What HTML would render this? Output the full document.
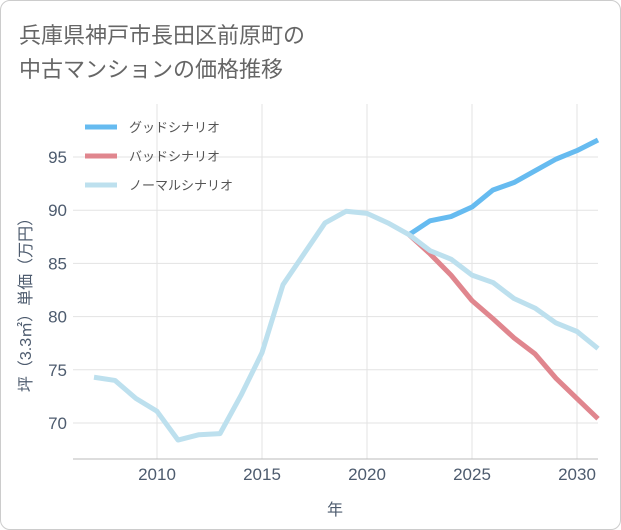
<!DOCTYPE html>
<html><head><meta charset="utf-8"><style>
body{margin:0;background:#fff;}
.card{position:absolute;left:0;top:0;width:619px;height:528px;border:1px solid #ccc;border-radius:10px;background:#fff;overflow:hidden}
.title{position:absolute;left:18px;top:18px;font:22px/34px "Liberation Sans","Noto Sans CJK JP",sans-serif;color:#666;}
svg{position:absolute;left:0;top:0}
text{font-family:"Liberation Sans","Noto Sans CJK JP",sans-serif}
</style></head><body>
<div class="card">
<div class="title">兵庫県神戸市長田区前原町の<br>中古マンションの価格推移</div>
<svg id="chart" width="621" height="530"></svg>
</div>
<script>
const years=[2007,2008,2009,2010,2011,2012,2013,2014,2015,2016,2017,2018,2019,2020,2021,2022,2023,2024,2025,2026,2027,2028,2029,2030,2031];
const normal=[74.3,74.0,72.3,71.1,68.4,68.9,69.0,72.6,76.6,83.0,85.9,88.8,89.9,89.7,88.8,87.7,86.2,85.4,83.9,83.2,81.7,80.8,79.4,78.6,77.0];
const futureYears=[2022,2023,2024,2025,2026,2027,2028,2029,2030,2031];
const good=[87.7,89.0,89.4,90.3,91.9,92.6,93.7,94.8,95.6,96.6];
const bad=[87.7,85.9,83.9,81.5,79.8,78.0,76.5,74.2,72.3,70.4];
const xTicks=[2010,2015,2020,2025,2030];
const yTicks=[70,75,80,85,90,95];
const L=72,R=597,T=103,B=458;
const x=v=>156+(v-2010)*21;
const y=v=>422-(v-70)*10.64;
const svg=document.getElementById('chart');
const NS='http://www.w3.org/2000/svg';
function mk(t,a){const e=document.createElementNS(NS,t);for(const k in a)e.setAttribute(k,a[k]);svg.appendChild(e);return e;}
xTicks.forEach(v=>{const l=mk('line',{x1:x(v),x2:x(v),y1:T,y2:B,stroke:'#e3e3e3'});


const t=mk('text',{x:x(v),y:479,'text-anchor':'middle','font-size':17,fill:'#4d5b6e'});t.textContent=v;

});
yTicks.forEach(v=>{const l=mk('line',{x1:L,x2:R,y1:y(v),y2:y(v),stroke:'#e3e3e3'});


const t=mk('text',{x:66,y:y(v)+6,'text-anchor':'end','font-size':17,fill:'#4d5b6e'});t.textContent=v;

});
const ax=mk('line',{x1:L,x2:R,y1:B,y2:B,stroke:'#bbb'});


function line(xs,ys,c,n){const p=mk('polyline',{points:xs.map((v,i)=>x(v)+','+y(ys[i])).join(' '),fill:'none',stroke:c,'stroke-width':5,'stroke-linejoin':'round'});

}
line(futureYears,good,'#66bbf0','good-scenario-line');
line(futureYears,bad,'#e0868e','bad-scenario-line');
line(years,normal,'#bde0ee','normal-scenario-line');
const leg=[['グッドシナリオ','#66bbf0'],['バッドシナリオ','#e0868e'],['ノーマルシナリオ','#bde0ee']];
leg.forEach((d,i)=>{const yy=126+i*29;
const l=mk('line',{x1:84,x2:116,y1:yy,y2:yy,stroke:d[1],'stroke-width':5});


const t=mk('text',{x:128,y:yy+5,'font-size':13,fill:'#555'});t.textContent=d[0];

});
const xt=mk('text',{x:334,y:514,'text-anchor':'middle','font-size':16,fill:'#4d5b6e'});xt.textContent='年';


const yt=mk('text',{x:0,y:0,'text-anchor':'middle','font-size':16,fill:'#4d5b6e',transform:'translate(30,300) rotate(-90)'});yt.textContent='坪（3.3㎡）単価（万円）';


</script>
</body></html>
